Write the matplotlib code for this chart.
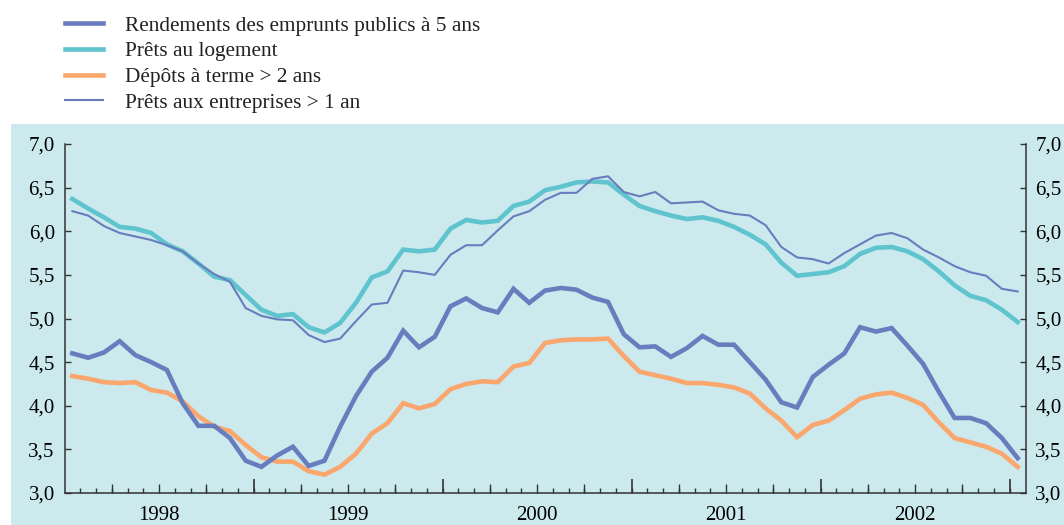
import matplotlib
matplotlib.use("Agg")
import matplotlib.pyplot as plt
from matplotlib.patches import Rectangle
import numpy as np

plt.rcParams['font.family'] = ['Liberation Serif', 'DejaVu Serif']

# Monthly data, Jan 1998 .. Jan 2003
rendements = [4.60, 4.55, 4.61, 4.74, 4.58, 4.50, 4.41, 4.03, 3.77, 3.77, 3.63, 3.37,
              3.30, 3.43, 3.53, 3.31, 3.37, 3.76, 4.11, 4.39, 4.55, 4.86, 4.67, 4.79,
              5.14, 5.23, 5.12, 5.07, 5.34, 5.18, 5.32, 5.35, 5.33, 5.24, 5.19, 4.82,
              4.67, 4.68, 4.56, 4.66, 4.80, 4.70, 4.70, 4.50, 4.30, 4.04, 3.98, 4.33,
              4.47, 4.60, 4.90, 4.85, 4.89, 4.69, 4.48, 4.16, 3.86, 3.86, 3.80, 3.63,
              3.40]
logement = [6.37, 6.26, 6.16, 6.05, 6.03, 5.98, 5.85, 5.77, 5.63, 5.48, 5.44, 5.27,
            5.10, 5.03, 5.05, 4.90, 4.84, 4.95, 5.18, 5.47, 5.54, 5.79, 5.77, 5.79,
            6.03, 6.13, 6.10, 6.12, 6.29, 6.34, 6.47, 6.51, 6.56, 6.57, 6.56, 6.42,
            6.29, 6.23, 6.18, 6.14, 6.16, 6.12, 6.05, 5.96, 5.85, 5.64, 5.49, 5.51,
            5.53, 5.60, 5.74, 5.81, 5.82, 5.77, 5.68, 5.54, 5.38, 5.26, 5.21, 5.10,
            4.96]
depots = [4.34, 4.31, 4.27, 4.26, 4.27, 4.18, 4.15, 4.05, 3.88, 3.76, 3.71, 3.55,
          3.41, 3.36, 3.36, 3.25, 3.21, 3.30, 3.45, 3.68, 3.80, 4.03, 3.97, 4.02,
          4.19, 4.25, 4.28, 4.27, 4.45, 4.49, 4.72, 4.75, 4.76, 4.76, 4.77, 4.57,
          4.39, 4.35, 4.31, 4.26, 4.26, 4.24, 4.21, 4.14, 3.97, 3.83, 3.64, 3.78,
          3.83, 3.95, 4.08, 4.13, 4.15, 4.09, 4.01, 3.81, 3.63, 3.58, 3.53, 3.45,
          3.30]
entreprises = [6.23, 6.18, 6.06, 5.98, 5.94, 5.90, 5.84, 5.77, 5.63, 5.51, 5.42, 5.12,
               5.03, 4.99, 4.98, 4.81, 4.73, 4.77, 4.97, 5.16, 5.18, 5.55, 5.53, 5.50,
               5.73, 5.84, 5.84, 6.01, 6.17, 6.23, 6.36, 6.44, 6.44, 6.60, 6.63, 6.45,
               6.40, 6.45, 6.32, 6.33, 6.34, 6.24, 6.20, 6.18, 6.07, 5.82, 5.70, 5.68,
               5.63, 5.75, 5.85, 5.95, 5.98, 5.92, 5.79, 5.70, 5.60, 5.53, 5.49, 5.34,
               5.31]
years = ['1998', '1999', '2000', '2001', '2002']
labels = ['Rendements des emprunts publics à 5 ans', 'Prêts au logement',
          'Dépôts à terme > 2 ans', 'Prêts aux entreprises > 1 an']
yticks = [3.0, 3.5, 4.0, 4.5, 5.0, 5.5, 6.0, 6.5, 7.0]

BG = '#cce9ee'
BLUE = '#687dbe'
CYAN = '#60c4ce'
ORANGE = '#faa66c'
AXC = '#333333'

W, H = 1064, 525
fig = plt.figure(figsize=(W / 100, H / 100), dpi=100)
fig.patch.set_facecolor('white')
fig.add_artist(Rectangle((11 / W, 0), 1, (H - 124) / H, transform=fig.transFigure,
                         facecolor=BG, edgecolor='none', zorder=0))

ax = fig.add_axes([64.5 / W, (H - 493) / H, (1025.5 - 64.5) / W, (493 - 144) / H])
ax.set_facecolor(BG)

x = np.arange(len(rendements)) + 0.5
l1, = ax.plot(x, rendements, color=BLUE, lw=3.3, solid_joinstyle='miter', zorder=3)
l2, = ax.plot(x, logement, color=CYAN, lw=3.3, solid_joinstyle='miter', zorder=2)
l3, = ax.plot(x, depots, color=ORANGE, lw=3.3, solid_joinstyle='miter', zorder=2)
l4, = ax.plot(x, entreprises, color=BLUE, lw=1.5, zorder=3)

n_months = len(rendements)
ax.set_xlim(0, n_months)
ax.set_ylim(3.0, 7.0)

for side in ['left', 'right', 'bottom']:
    ax.spines[side].set_color(AXC)
    ax.spines[side].set_linewidth(1.1)
ax.spines['top'].set_visible(False)

ax.set_yticks(yticks)
ax.set_yticklabels([f'{v:.1f}'.replace('.', ',') for v in yticks])
ax.tick_params(axis='y', which='both', direction='in', length=4.5, width=1.0,
               color=AXC, left=True, right=True, labelleft=True, labelright=True,
               labelsize=15, pad=7)

# x: labels at mid-year, monthly minor ticks
ax.set_xticks([12 * k + 6 for k in range(len(years))])
ax.set_xticklabels(years)
ax.set_xticks(np.arange(1, n_months), minor=True)
ax.tick_params(axis='x', which='major', length=0, labelsize=15, pad=9)
ax.tick_params(axis='x', which='minor', direction='in', length=3.6, width=1.0, color=AXC)

sec = ax.secondary_xaxis('bottom')
sec.set_xticks([12 * k for k in range(1, len(years) + 1)])
sec.set_xticks([3 * k for k in range(1, n_months // 3 + 1) if (3 * k) % 12 != 0], minor=True)
sec.tick_params(axis='x', which='major', direction='in', length=10, width=1.2,
                color=AXC, labelbottom=False)
sec.tick_params(axis='x', which='minor', direction='in', length=6.5, width=1.0,
                color=AXC, labelbottom=False)
sec.spines['bottom'].set_visible(False)

leg = fig.legend([l1, l2, l3, l4], labels, loc='upper left',
                 bbox_to_anchor=(65 / W, 1 - 16 / H), frameon=False,
                 fontsize=15.3, handlelength=1.79, handletextpad=1.03,
                 labelspacing=0.27, borderaxespad=0, borderpad=0)
for t in leg.get_texts():
    t.set_color('#222222')

fig.savefig('out.png', dpi=100)
